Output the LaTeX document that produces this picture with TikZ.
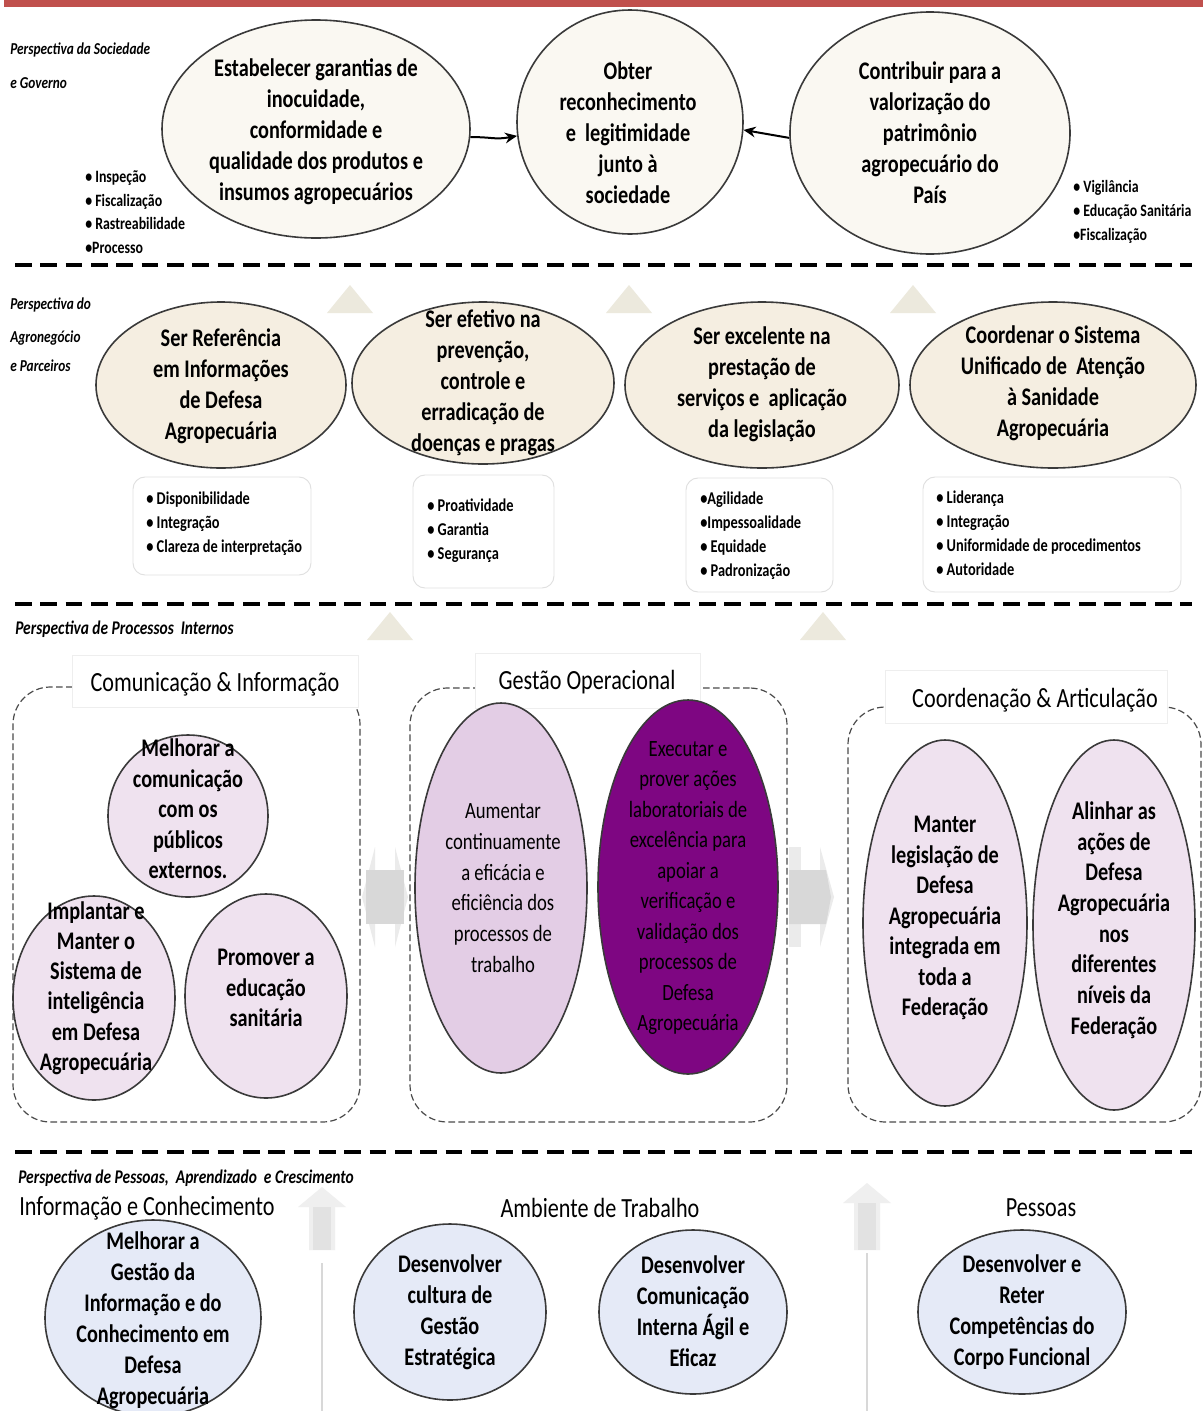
\documentclass[tikz,border=0pt]{standalone}
\usepackage{fontspec}
\setmainfont{Carlito}
\newfontfamily\cf[FakeStretch=0.8]{Carlito}
\usetikzlibrary{arrows.meta,shapes.geometric}
\definecolor{barred}{HTML}{C0504D}
\definecolor{creamA}{HTML}{FAF8F2}
\definecolor{creamB}{HTML}{F5EEE1}
\definecolor{lav}{HTML}{EFE2EF}
\definecolor{lavmid}{HTML}{E3CDE5}
\definecolor{purp}{HTML}{7E0682}
\definecolor{lblue}{HTML}{E5EAF7}
\definecolor{elline}{HTML}{3A3A3A}
\definecolor{boxline}{HTML}{E0E0E0}
\definecolor{grpline}{HTML}{4A4A4A}
\definecolor{ttlline}{HTML}{EEEEEE}
\definecolor{trifill}{HTML}{ECE9DD}
\definecolor{garrow}{HTML}{D8D8D8}
\definecolor{garrowl}{HTML}{EBEBEB}
\definecolor{uparrow}{HTML}{E2E2E2}
\definecolor{uparrowl}{HTML}{EFEFEF}
\definecolor{vline}{HTML}{D8D8D8}
\begin{document}
\begin{tikzpicture}[x=0.75pt,y=-0.75pt,
  el/.style={ellipse, draw=elline, line width=1.2pt, inner sep=0pt},
  topel/.style={el, fill=creamA},
  midel/.style={el, fill=creamB},
  lavel/.style={el, fill=lav},
  lavmidel/.style={el, fill=lavmid},
  purpel/.style={el, fill=purp},
  blel/.style={el, fill=lblue},
  txt/.style={align=center, inner sep=0pt, font=\cf\bfseries\fontsize{19}{23.2}\selectfont},
  txtr/.style={align=center, inner sep=0pt, font=\cf\fontsize{17.5}{23}\selectfont},
  persp/.style={anchor=west, inner sep=0pt, font=\cf\bfseries\itshape\fontsize{12.5}{14}\selectfont},
  perspb/.style={persp, font=\cf\bfseries\itshape\fontsize{14.5}{16}\selectfont},
  blist/.style={anchor=west, align=left, inner sep=0pt, font=\cf\bfseries\fontsize{13.5}{18}\selectfont},
  bbox/.style={draw=boxline, line width=0.7pt, rounded corners=9pt, fill=white, inner sep=0pt},
  sepline/.style={line width=3pt, dash pattern=on 12.5pt off 6.5pt},
  grp/.style={draw=grpline, line width=0.9pt, dash pattern=on 5pt off 2.5pt, rounded corners=28pt, inner sep=0pt},
  ttl/.style={fill=white, draw=ttlline, line width=0.5pt, inner sep=0pt},
  headtxt/.style={inner sep=0pt, font=\cf\fontsize{20.8}{24}\selectfont},
  tri/.style={fill=trifill},
  conn/.style={line width=1.5pt, -{Stealth[length=9pt,width=8pt]}}
]
\useasboundingbox (0,0) rectangle (1203,1411);
\fill[white] (0,0) rectangle (1203,1411);
\fill[barred] (4,0) rectangle (1203,7);

% ---------- separators
\coordinate (s1a) at (15,265); \coordinate (s1b) at (1192,265);
\coordinate (s2a) at (15,604); \coordinate (s2b) at (1192,604);
\coordinate (s3a) at (15,1152); \coordinate (s3b) at (1192,1152);
\draw[sepline] (s1a) -- (s1b);
\draw[sepline] (s2a) -- (s2b);
\draw[sepline] (s3a) -- (s3b);

% ---------- row 1
\node[persp] (p1a) at (10,50) {Perspectiva da Sociedade};
\node[persp] (p1b) at (10,83) {e Governo};
\node[topel, minimum width=231pt, minimum height=163.5pt] (e1) at (316,129) {};
\node[topel, minimum width=169.5pt, minimum height=168pt] (e2) at (630,122) {};
\node[topel, minimum width=210pt, minimum height=181.5pt] (e3) at (930,133) {};
\node[txt] (t1) at (316,132) {Estabelecer garantias de\\inocuidade,\\conformidade e\\qualidade dos produtos e\\insumos agropecuários};
\node[txt] (t2) at (628,133) {Obter\\reconhecimento\\e\ \ legitimidade\\junto à\\sociedade};
\node[txt] (t3) at (930,133) {Contribuir para a\\valorização do\\patrimônio\\agropecuário do\\País};
\draw[conn] (e1.-3) .. controls (494,137) and (494,140) .. (e2.187);
\draw[conn] (e3.182) -- (e2.-4);
\node[blist, font=\cf\bfseries\fontsize{13}{17.6}\selectfont] (l0a) at (85,212) {• Inspeção\\• Fiscalização\\• Rastreabilidade\\•Processo};
\node[blist, font=\cf\bfseries\fontsize{13}{18}\selectfont] (l0b) at (1073,212) {• Vigilância\\• Educação Sanitária\\•Fiscalização};

% ---------- row 2
\fill[tri] (327,313) -- (350,285) -- (373,313) -- cycle;
\fill[tri] (606,313) -- (629,285) -- (652,313) -- cycle;
\fill[tri] (890,313) -- (913,285) -- (936,313) -- cycle;
\node[persp] (p2a) at (10,305) {Perspectiva do};
\node[persp] (p2b) at (10,338) {Agronegócio};
\node[persp] (p2c) at (10,366) {e Parceiros};
\node[midel, minimum width=187.5pt, minimum height=124.5pt] (e4) at (221,385) {};
\node[midel, minimum width=196.5pt, minimum height=121.5pt] (e5) at (483,383) {};
\node[midel, minimum width=205.5pt, minimum height=124.5pt] (e6) at (762,385) {};
\node[midel, minimum width=214.5pt, minimum height=124.5pt] (e7) at (1053,385) {};
\node[txt] (t4) at (221,386) {Ser Referência\\em Informações\\de Defesa\\Agropecuária};
\node[txt] (t5) at (483,383) {Ser efetivo na\\prevenção,\\controle e\\erradicação de\\doenças e pragas};
\node[txt] (t6) at (762,384) {Ser excelente na\\prestação de\\serviços e\ \ aplicação\\da legislação};
\node[txt] (t7) at (1053,383) {Coordenar o Sistema\\Unificado de\ \ Atenção\\à Sanidade\\Agropecuária};
\node[bbox, minimum width=133.5pt, minimum height=73.5pt] (b1) at (222,526) {};
\node[bbox, minimum width=105.75pt, minimum height=84.75pt] (b2) at (483.5,531.5) {};
\node[bbox, minimum width=110.25pt, minimum height=85.5pt] (b3) at (759.5,535) {};
\node[bbox, minimum width=193.5pt, minimum height=86.25pt] (b4) at (1052,534.5) {};
\node[blist] (l1) at (146,524) {• Disponibilidade\\• Integração\\• Clareza de interpretação};
\node[blist] (l2) at (427,531) {• Proatividade\\• Garantia\\• Segurança};
\node[blist] (l3) at (700,536) {•Agilidade\\•Impessoalidade\\• Equidade\\• Padronização};
\node[blist] (l4) at (936,533) {• Liderança\\• Integração\\• Uniformidade de procedimentos\\• Autoridade};

% ---------- row 3
\node[perspb] (p3) at (15,629) {Perspectiva de Processos\ \ Internos};
\fill[tri] (367,640) -- (390,612) -- (413,640) -- cycle;
\fill[tri] (800,640) -- (823,612) -- (846,640) -- cycle;
\node[grp, minimum width=260.25pt, minimum height=326.25pt] (g1) at (186.5,904.5) {};
\node[grp, minimum width=282.75pt, minimum height=325.5pt] (g2) at (598.5,905) {};
\node[grp, minimum width=264.75pt, minimum height=311.25pt] (g3) at (1024.5,914.5) {};
\node[ttl, minimum width=214.5pt, minimum height=39pt] (tb1) at (215,681) {};
\node[ttl, minimum width=168.75pt, minimum height=41.25pt] (tb2) at (587.5,680.5) {};
\node[ttl, minimum width=211.5pt, minimum height=39.75pt] (tb3) at (1026,696.5) {};
\node[headtxt] (h1) at (215,684) {Comunicação \& Informação};
\node[headtxt] (h2) at (587,682) {Gestão Operacional};
\node[headtxt] (h3) at (1035,700) {Coordenação \& Articulação};

\node[lavel, minimum width=120pt, minimum height=121.5pt] (c1) at (188,816) {};
\node[lavel, minimum width=121.5pt, minimum height=153pt] (c2) at (94,998) {};
\node[lavel, minimum width=121.5pt, minimum height=153pt] (c3) at (266,996) {};
\node[txt, font=\cf\bfseries\fontsize{19}{22.9}\selectfont] (tc1) at (188,809) {Melhorar a\\comunicação\\com os\\públicos\\externos.};
\node[txt, font=\cf\bfseries\fontsize{19}{22.7}\selectfont] (tc2) at (96,988) {Implantar e\\Manter o\\Sistema de\\inteligência\\em Defesa\\Agropecuária};
\node[txt, font=\cf\bfseries\fontsize{19}{22.7}\selectfont] (tc3) at (266,988) {Promover a\\educação\\sanitária};

\node[lavmidel, minimum width=129pt, minimum height=277.5pt] (o1) at (501,888) {};
\node[purpel, minimum width=135pt, minimum height=280.5pt] (o2) at (688,887) {};
\node[txtr] (to1) at (503,888) {Aumentar\\continuamente\\a eficácia e\\eficiência dos\\processos de\\trabalho};
\node[txtr, text=black, font=\cf\fontsize{17.5}{22.9}\selectfont] (to2) at (688,888) {Executar e\\prover ações\\laboratoriais de\\excelência para\\apoiar a\\verificação e\\validação dos\\processos de\\Defesa\\Agropecuária};

\node[lavel, minimum width=123pt, minimum height=274.5pt] (k1) at (945,923) {};
\node[lavel, minimum width=121.5pt, minimum height=277.5pt] (k2) at (1114,925) {};
\node[txt, font=\cf\bfseries\fontsize{19}{22.9}\selectfont] (tk1) at (945,918) {Manter\\legislação de\\Defesa\\Agropecuária\\integrada em\\toda a\\Federação};
\node[txt, font=\cf\bfseries\fontsize{19}{23}\selectfont] (tk2) at (1114,920) {Alinhar as\\ações de\\Defesa\\Agropecuária\\nos\\diferentes\\níveis da\\Federação};

% gray block arrows between groups
\fill[garrowl] (362,897) -- (375,847) -- (375,947) -- cycle;
\fill[garrowl] (408,897) -- (395,847) -- (395,947) -- cycle;
\fill[garrow] (366,870) -- (404,870) -- (404,924) -- (366,924) -- cycle;
\fill[garrowl] (789,847) -- (801,847) -- (801,947) -- (789,947) -- cycle;
\fill[garrowl] (834,897) -- (820,847) -- (820,947) -- cycle;
\fill[garrow] (789,870) -- (826,870) -- (831,897) -- (826,924) -- (789,924) -- cycle;

% ---------- row 4
\node[perspb] (p4) at (18,1178) {Perspectiva de Pessoas,\ \ Aprendizado\ \ e Crescimento};
\node[headtxt] (h4) at (147,1208) {Informação e Conhecimento};
\node[headtxt] (h5) at (600,1208) {Ambiente de Trabalho};
\node[headtxt] (h6) at (1041,1208) {Pessoas};
% up arrows
\fill[uparrowl] (298,1207) -- (322,1187) -- (346,1207) -- (335,1207) -- (335,1250) -- (309,1250) -- (309,1207) -- cycle;
\fill[uparrow] (313,1207) -- (331,1207) -- (331,1250) -- (313,1250) -- cycle;
\fill[uparrowl] (843,1203) -- (867,1183) -- (891,1203) -- (880,1203) -- (880,1250) -- (854,1250) -- (854,1203) -- cycle;
\fill[uparrow] (858,1203) -- (876,1203) -- (876,1250) -- (858,1250) -- cycle;
\coordinate (v1a) at (322,1263); \coordinate (v1b) at (322,1411);
\coordinate (v2a) at (867,1253); \coordinate (v2b) at (867,1411);
\draw[vline, line width=0.9pt] (v1a) -- (v1b);
\draw[vline, line width=0.9pt] (v2a) -- (v2b);

\node[blel, minimum width=162pt, minimum height=147pt] (m1) at (153,1318) {};
\node[blel, minimum width=144pt, minimum height=132pt] (d1) at (450,1312) {};
\node[blel, minimum width=141pt, minimum height=123pt] (d2) at (693,1312) {};
\node[blel, minimum width=156pt, minimum height=123pt] (d3) at (1022,1312) {};
\node[txt] (tm1) at (153,1320) {Melhorar a\\Gestão da\\Informação e do\\Conhecimento em\\Defesa\\Agropecuária};
\node[txt] (td1) at (450,1312) {Desenvolver\\cultura de\\Gestão\\Estratégica};
\node[txt] (td2) at (693,1311) {Desenvolver\\Comunicação\\Interna Ágil e\\Eficaz};
\node[txt] (td3) at (1022,1312) {Desenvolver e\\Reter\\Competências do\\Corpo Funcional};
\end{tikzpicture}
\end{document}
